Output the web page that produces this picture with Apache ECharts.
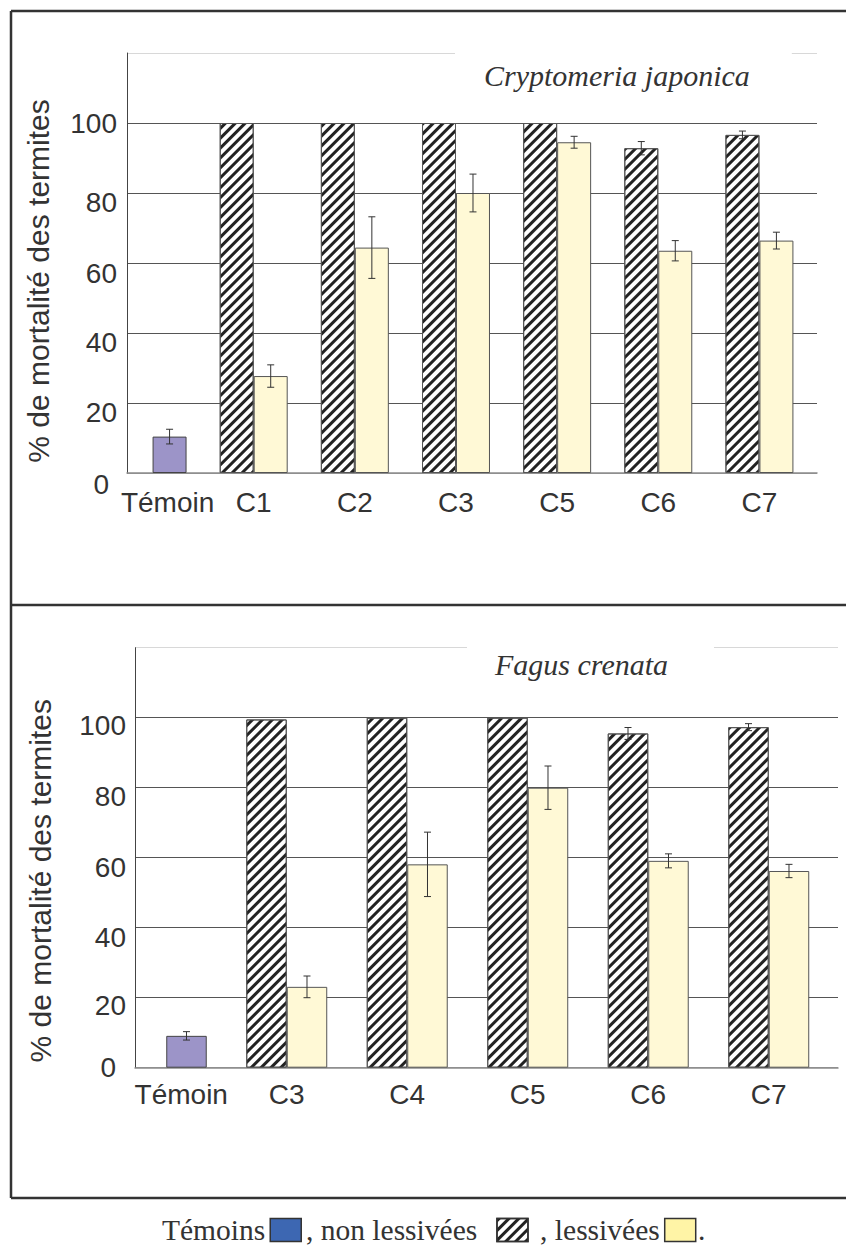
<!DOCTYPE html>
<html>
<head>
<meta charset="utf-8">
<script src="https://cdn.jsdelivr.net/npm/echarts@6/dist/echarts.min.js"></script>
<style>
html,body{margin:0;padding:0;background:#fff;}
#chart{width:846px;height:1245px;}
</style>
</head>
<body>
<div id="chart"></div>
<script>
// ---------------- DATA ----------------
const yTicks = [0, 20, 40, 60, 80, 100, 120];

// Top panel: Cryptomeria japonica
const catsTop = ['Témoin', 'C1', 'C2', 'C3', 'C5', 'C6', 'C7'];
const temoinTop = [10.4, null, null, null, null, null, null];
const temoinErrTop = [2.1, null, null, null, null, null, null];
const nonLessTop = [null, 100, 100, 100, 100, 92.8, 96.6];
const nonLessErrTop = [null, 0, 0, 0, 0, 1.9, 1.1];
const lessTop = [null, 27.7, 64.4, 80, 94.5, 63.5, 66.4];
const lessErrTop = [null, 3.2, 8.8, 5.4, 1.7, 2.9, 2.4];

// Bottom panel: Fagus crenata
const catsBot = ['Témoin', 'C3', 'C4', 'C5', 'C6', 'C7'];
const temoinBot = [9.1, null, null, null, null, null];
const temoinErrBot = [1.2, null, null, null, null, null];
const nonLessBot = [null, 99.5, 100, 100, 95.5, 97.3];
const nonLessErrBot = [null, 0, 0, 0, 1.7, 1.0];
const lessBot = [null, 23.1, 58.1, 80, 59.1, 56.2];
const lessErrBot = [null, 3.1, 9.2, 6.2, 2.0, 1.9];

const titleTop = 'Cryptomeria japonica';
const titleBot = 'Fagus crenata';
const yName = '% de mortalité des termites';
const legendNames = ['Témoins', 'non lessivées', 'lessivées'];
const legendText = {'Témoins': 'Témoins', 'non lessivées': ', non lessivées  ', 'lessivées': ' , lessivées'};

// ---------------- STYLE ----------------
const SANS = 'Liberation Sans, Arial, Helvetica, sans-serif';
const SERIF = 'Liberation Serif, Times New Roman, serif';
const TXT = '#333';
const BAR_FRAC = 0.336;
const hatch = {
  symbol: 'rect', symbolSize: 1,
  dashArrayX: [1, 0], dashArrayY: [3, 4],
  rotation: -Math.PI / 4, color: '#222'
};

function errSeriesData(vals, errs, side, out) {
  vals.forEach((v, i) => {
    if (v != null && errs[i]) out.push([i, v, errs[i], side]);
  });
  return out;
}
const errTop = [];
errSeriesData(nonLessTop, nonLessErrTop, -1, errTop);
errSeriesData(lessTop, lessErrTop, 1, errTop);
errSeriesData(temoinTop, temoinErrTop, 1, errTop);
const errBot = [];
errSeriesData(nonLessBot, nonLessErrBot, -1, errBot);
errSeriesData(lessBot, lessErrBot, 1, errBot);
errSeriesData(temoinBot, temoinErrBot, 1, errBot);

function renderErr(params, api) {
  const i = api.value(0), v = api.value(1), e = api.value(2), side = api.value(3);
  const band = api.size([1, 0])[0];
  const off = side * band * BAR_FRAC / 2;
  const p1 = api.coord([i, v + e]);
  const p2 = api.coord([i, v - e]);
  const x = p1[0] + off;
  const c = 3.5;
  const st = {stroke: '#333', lineWidth: 1};
  return {type: 'group', children: [
    {type: 'line', shape: {x1: x, y1: p1[1], x2: x, y2: p2[1]}, style: st},
    {type: 'line', shape: {x1: x - c, y1: p1[1], x2: x + c, y2: p1[1]}, style: st},
    {type: 'line', shape: {x1: x - c, y1: p2[1], x2: x + c, y2: p2[1]}, style: st}
  ]};
}

function yLabelRich(offsets, padRight0) {
  const rich = {};
  Object.keys(offsets).forEach(k => {
    rich['o' + k] = {fontSize: 28, fontFamily: SANS, color: TXT,
      padding: [2 * offsets[k], k === '0' ? padRight0 : 0, 0, 0]};
  });
  return rich;
}
const offTop = {'0': 11, '20': 9, '40': 9, '60': 10, '80': 9, '100': 0};
const offBot = {'0': 0, '20': 8, '40': 10, '60': 10, '80': 9, '100': 8};

function yAxisVisible(gridIndex, offsets, pad0, margin, nameGap, namePad) {
  return {
    type: 'value', gridIndex: gridIndex, min: yTicks[0], max: yTicks[yTicks.length - 1], interval: 20,
    axisLine: {show: true, lineStyle: {color: '#444', width: 1}},
    axisTick: {show: false},
    axisLabel: {
      margin: margin,
      formatter: v => (v === 120 ? '' : '{o' + v + '|' + v + '}'),
      rich: yLabelRich(offsets, pad0)
    },
    splitLine: {show: true, lineStyle: {color: ['#999', '#555', '#555', '#555', '#555', '#555', '#d8d8d8'], width: 1}},
    name: yName, nameLocation: 'middle', nameGap: nameGap, nameRotate: 90,
    nameTextStyle: {fontSize: 30, fontFamily: SANS, color: TXT, padding: namePad}
  };
}
function yAxisHidden(gridIndex) {
  return {type: 'value', gridIndex: gridIndex, min: 0, max: 120, interval: 20, show: false};
}
function xAxisLine(gridIndex) {
  return {type: 'value', gridIndex: gridIndex, min: 0, max: 1,
    axisLine: {show: true, lineStyle: {color: '#8c8c8c', width: 1.5}},
    axisTick: {show: false}, axisLabel: {show: false}, splitLine: {show: false}};
}
function xAxisCat(gridIndex, cats, margin) {
  return {type: 'category', gridIndex: gridIndex, data: cats,
    axisLine: {show: false}, axisTick: {show: false}, splitLine: {show: false},
    axisLabel: {
      margin: margin, interval: 0,
      formatter: v => (v === 'Témoin' ? '{t|' + v + '}' : '{c|' + v + '}'),
      rich: {
        t: {fontSize: 28, fontFamily: SANS, color: TXT, padding: [0, 0, 0, 30]},
        c: {fontSize: 28, fontFamily: SANS, color: TXT}
      }
    }};
}
function barSeries(name, xi, data, stack, style) {
  return {type: 'bar', name: name, xAxisIndex: xi, yAxisIndex: xi, data: data,
    stack: stack, barWidth: (BAR_FRAC * 100) + '%', barGap: '0%',
    itemStyle: style, emphasis: {disabled: true}, z: 2};
}

const styleNon = {color: '#ffffff', borderColor: '#555', borderWidth: 1, decal: hatch};
const styleLess = {color: '#fff9d6', borderColor: '#555', borderWidth: 1};
const styleTem = {color: '#9c94c8', borderColor: '#444', borderWidth: 1};

const frame = {stroke: '#333', lineWidth: 2.5};

const option = {
  animation: false,
  backgroundColor: '#fff',
  title: [
    {text: titleTop, left: 455, top: 46, padding: [14, 42, 4, 29], backgroundColor: '#fff',
      textStyle: {fontFamily: SERIF, fontStyle: 'italic', fontWeight: 'normal', fontSize: 30, color: TXT}},
    {text: titleBot, left: 467, top: 641, padding: [8, 46, 4, 28], backgroundColor: '#fff',
      textStyle: {fontFamily: SERIF, fontStyle: 'italic', fontWeight: 'normal', fontSize: 30, color: TXT}}
  ],
  legend: {
    left: 162, top: 1215, align: 'right', icon: 'rect', padding: 0,
    itemWidth: 31, itemHeight: 23, itemGap: 4, selectedMode: false,
    textStyle: {fontFamily: SERIF, fontSize: 29.5, color: TXT},
    formatter: n => legendText[n],
    data: [
      {name: legendNames[0], itemStyle: {color: '#3d67b2', borderColor: '#333', borderWidth: 1.5}},
      {name: legendNames[1], itemStyle: {borderColor: '#333', borderWidth: 1.5}},
      {name: legendNames[2], itemStyle: {color: '#fff4a6', borderColor: '#333', borderWidth: 1.5}}
    ]
  },
  grid: [
    {left: 127, top: 53, width: 690, height: 420},
    {left: 102, top: 53, width: 708, height: 420},
    {left: 135, top: 647.7, width: 703, height: 420},
    {left: 106, top: 647.7, width: 723, height: 420}
  ],
  xAxis: [xAxisLine(0), xAxisCat(1, catsTop, 15), xAxisLine(2), xAxisCat(3, catsBot, 13)],
  yAxis: [
    yAxisVisible(0, offTop, 8, 10, 74, [0, 36, 0, 0]),
    yAxisHidden(1),
    yAxisVisible(2, offBot, 10, 9, 80, [0, 46, 0, 0]),
    yAxisHidden(3)
  ],
  series: [
    barSeries(legendNames[1], 1, nonLessTop, 'topNon', styleNon),
    barSeries(legendNames[2], 1, lessTop, 'topLess', styleLess),
    barSeries(legendNames[0], 1, temoinTop, 'topLess', styleTem),
    {type: 'custom', xAxisIndex: 1, yAxisIndex: 1, data: errTop, renderItem: renderErr,
      encode: {x: 0, y: 1}, z: 5, silent: true},
    barSeries(legendNames[1], 3, nonLessBot, 'botNon', styleNon),
    barSeries(legendNames[2], 3, lessBot, 'botLess', styleLess),
    barSeries(legendNames[0], 3, temoinBot, 'botLess', styleTem),
    {type: 'custom', xAxisIndex: 3, yAxisIndex: 3, data: errBot, renderItem: renderErr,
      encode: {x: 0, y: 1}, z: 5, silent: true}
  ],
  graphic: [
    {type: 'line', shape: {x1: 11, y1: 11, x2: 846, y2: 11}, style: frame, z: 100},
    {type: 'line', shape: {x1: 11, y1: 11, x2: 11, y2: 1198}, style: frame, z: 100},
    {type: 'line', shape: {x1: 11, y1: 605, x2: 846, y2: 605}, style: frame, z: 100},
    {type: 'line', shape: {x1: 11, y1: 1198, x2: 846, y2: 1198}, style: frame, z: 100},
    {type: 'text', left: 698, top: 1215, style: {text: '.', font: '29.5px ' + SERIF, fill: TXT}, z: 100}
  ]
};

const chart = echarts.init(document.getElementById('chart'), null, {renderer: 'svg'});
chart.setOption(option);
</script>
</body>
</html>
